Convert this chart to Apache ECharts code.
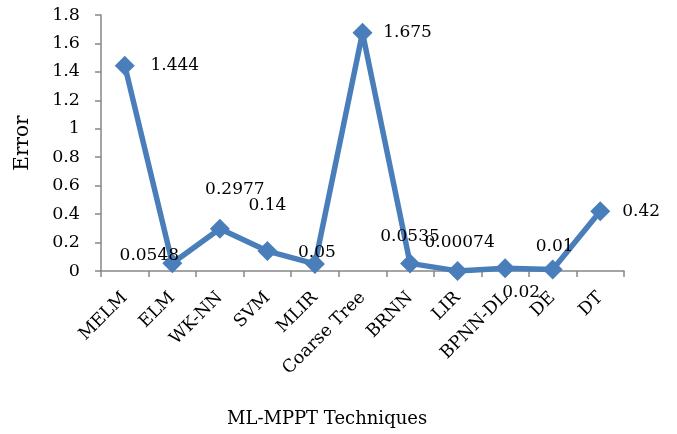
<!DOCTYPE html>
<html>
<head>
<meta charset="utf-8">
<script src="https://cdn.jsdelivr.net/npm/echarts@6/dist/echarts.min.js"></script>
<style>
  html, body { margin: 0; padding: 0; background: #fff; }
  #chart { width: 677px; height: 434px; }
</style>
</head>
<body>
<div id="chart"></div>
<script>
// Error of each MPPT technique
const techniques = ['MELM', 'ELM', 'WK-NN', 'SVM', 'MLIR', 'Coarse Tree', 'BRNN', 'LIR', 'BPNN-DL', 'DE', 'DT'];
const errors = [1.444, 0.0548, 0.2977, 0.14, 0.05, 1.675, 0.0535, 0.00074, 0.02, 0.01, 0.42];
const errorLabels = ['1.444', '0.0548', '0.2977', '0.14', '0.05', '1.675', '0.0535', '0.00074', '0.02', '0.01', '0.42'];

// Where each value label sits relative to its marker (x, y pixels)
const labelShift = [[50, 0], [-23, -8], [15, -39], [0, -46], [2, -11], [45, 0], [0, -27], [2, -28], [16, 24], [2, -23], [41, 0]];

const FONT = 'DejaVu Serif';
const AXIS = '#868686';
const LINE = '#4a7ebb';

const chart = echarts.init(document.getElementById('chart'));

const seriesData = errors.map((v, i) => ({
  value: v,
  label: {
    show: true,
    position: 'inside',
    offset: labelShift[i],
    formatter: errorLabels[i]
  }
}));

chart.setOption({
  animation: false,
  grid: { left: 101, right: 53, top: 15, bottom: 163 },
  xAxis: {
    type: 'category',
    data: techniques,
    boundaryGap: true,
    axisLine: { lineStyle: { color: AXIS, width: 1.5 } },
    axisTick: { show: true, length: 6, lineStyle: { color: AXIS, width: 1.5 } },
    axisLabel: {
      rotate: 45,
      interval: 0,
      margin: 24,
      color: '#000',
      fontFamily: FONT,
      fontSize: 17.5
    },
    splitLine: { show: false }
  },
  yAxis: {
    type: 'value',
    min: 0,
    max: 1.8,
    interval: 0.2,
    name: 'Error',
    nameLocation: 'middle',
    nameGap: 68,
    nameRotate: 90,
    nameTextStyle: { color: '#000', fontFamily: FONT, fontSize: 20 },
    axisLine: { show: true, lineStyle: { color: AXIS, width: 1.5 } },
    axisTick: { show: true, length: 6, lineStyle: { color: AXIS, width: 1.5 } },
    axisLabel: {
      margin: 21,
      color: '#000',
      fontFamily: FONT,
      fontSize: 17.5,
      formatter: v => String(Math.round(v * 10) / 10)
    },
    splitLine: { show: false }
  },
  graphic: [{
    type: 'text',
    left: 227,
    top: 410,
    style: {
      text: 'ML-MPPT Techniques',
      fill: '#000',
      font: '18px "DejaVu Serif"'
    }
  }],
  series: [{
    type: 'line',
    data: seriesData,
    symbol: 'diamond',
    symbolSize: 20,
    lineStyle: { color: LINE, width: 5.5 },
    itemStyle: { color: LINE },
    label: {
      color: '#000',
      fontFamily: FONT,
      fontSize: 17
    }
  }]
});
</script>
</body>
</html>
